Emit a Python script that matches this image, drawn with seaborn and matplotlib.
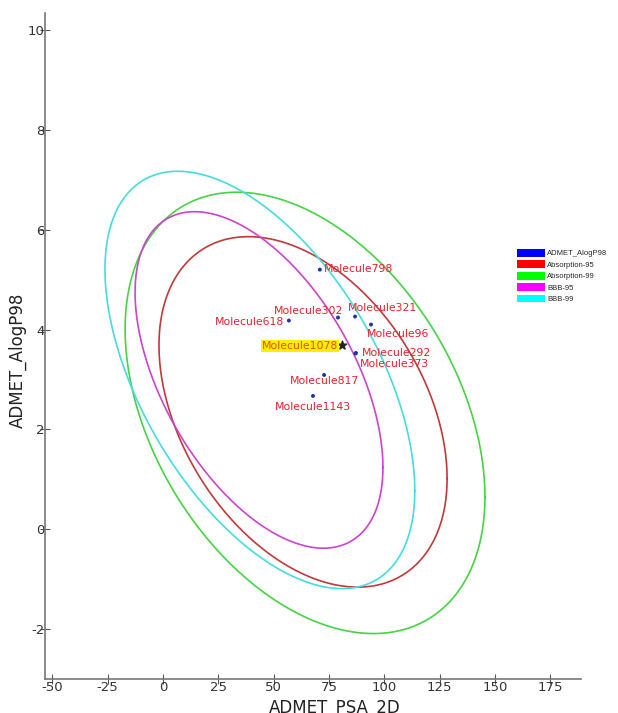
import numpy as np
import pandas as pd
import matplotlib
matplotlib.use("Agg")
import matplotlib.pyplot as plt
import seaborn as sns
from matplotlib.patches import Patch

# ellipse parameters: centre x/y, half width, half height, tilt (cos of phase)
ell_names = ["Absorption-95", "Absorption-99", "BBB-95", "BBB-99"]
ell_cx = [63.3, 64.2, 43.4, 43.8]
ell_cy = [2.35, 2.33, 2.99, 2.99]
ell_ax = [65.1, 81.3, 56.0, 70.0]
ell_ay = [3.51, 4.42, 3.37, 4.18]
ell_cos = [-0.38, -0.38, -0.52, -0.53]
ell_colors = ["#c03a3a", "#44d444", "#cc44cc", "#44dddd"]

mol_names = ["Molecule798", "Molecule302", "Molecule321", "Molecule96", "Molecule618",
             "Molecule292", "Molecule373", "Molecule817", "Molecule1143"]
mol_psa = [70.9, 79.1, 86.8, 94.0, 56.9, 87.2, 87.0, 72.8, 67.8]
mol_alogp = [5.20, 4.24, 4.26, 4.10, 4.18, 3.53, 3.52, 3.09, 2.67]

ref_name = "Molecule1078"
ref_psa = 80.9
ref_alogp = 3.69

legend_names = ["ADMET_AlogP98", "Absorption-95", "Absorption-99", "BBB-95", "BBB-99"]
legend_colors = ["#0000ff", "#ff0000", "#00ff00", "#ff00ff", "#00ffff"]

sns.set_theme(style="white")
plt.rcParams['font.family'] = ['DejaVu Sans']
plt.rcParams['axes.unicode_minus'] = False

fig = plt.figure(figsize=(6.18, 7.13), dpi=100)
ax = fig.add_axes([45 / 618, 34 / 713, 536 / 618, 666 / 713])

t = np.linspace(0, 2 * np.pi, 400)
for name, cx, cy, a, b, c, col in zip(ell_names, ell_cx, ell_cy, ell_ax, ell_ay, ell_cos, ell_colors):
    phi = np.arccos(c)
    df = pd.DataFrame({"x": cx + a * np.cos(t), "y": cy + b * np.cos(t - phi)})
    sns.lineplot(data=df, x="x", y="y", sort=False, color=col, lw=1.2, ax=ax, estimator=None)

pts = pd.DataFrame({"psa": mol_psa, "alogp": mol_alogp, "name": mol_names})
sns.scatterplot(data=pts, x="psa", y="alogp", color="#2233aa", s=8, edgecolor="none", ax=ax, zorder=5)
ax.scatter([ref_psa], [ref_alogp], marker="*", s=40, color="#222222", zorder=6)

# label offsets in pixels
offsets = {
    "Molecule798": (4, 1, "left"),
    "Molecule302": (5, 7, "right"),
    "Molecule321": (-7, 9, "left"),
    "Molecule96": (-4, -9, "left"),
    "Molecule618": (-5, -1, "right"),
    "Molecule292": (6, 0, "left"),
    "Molecule373": (4, -11, "left"),
    "Molecule817": (0, -6, "center"),
    "Molecule1143": (0, -11, "center"),
}
for n, x, y in zip(mol_names, mol_psa, mol_alogp):
    dx, dy, ha = offsets[n]
    ax.annotate(n, (x, y), xytext=(dx, dy), textcoords="offset pixels",
                ha=ha, va="center", fontsize=7.8, color="#e8202a", zorder=7)
ax.annotate(ref_name, (ref_psa, ref_alogp), xytext=(-4, -1), textcoords="offset pixels",
            ha="right", va="center", fontsize=7.8, color="#e05010", zorder=7,
            bbox=dict(boxstyle="square,pad=0.1", fc="#ffee00", ec="none"))

ax.set_xlim(-53.3, 188.9)
ax.set_ylim(-3.0, 10.34)
ax.set_xticks(range(-50, 176, 25))
ax.set_yticks(range(-2, 11, 2))
ax.set_xlabel("ADMET_PSA_2D", fontsize=12, color="#222222", va="top")
ax.set_ylabel("ADMET_AlogP98", fontsize=12, color="#222222", va="center")
ax.xaxis.set_label_coords(0.541, -0.030)
ax.yaxis.set_label_coords(-0.050, 0.479)
for s in ["top", "right"]:
    ax.spines[s].set_visible(False)
for s in ["left", "bottom"]:
    ax.spines[s].set_color("#777777")
    ax.spines[s].set_linewidth(1.2)
ax.tick_params(axis="both", direction="inout", length=7, width=0.8, color="#555555",
               labelsize=9.5, labelcolor="#333333")
ax.tick_params(axis="x", pad=-2)
ax.tick_params(axis="y", pad=-3)
ax.tick_params(axis="both", bottom=True, left=True)

handles = [Patch(facecolor=c, edgecolor="none", label=l) for l, c in zip(legend_names, legend_colors)]
fig.legend(handles=handles, loc="upper left", bbox_to_anchor=(517 / 618, 1 - 249 / 713), frameon=False,
           prop={"family": "Liberation Sans", "size": 5.5}, handlelength=3.66, handleheight=1.18,
           handletextpad=0.26, labelspacing=0.39, borderpad=0, borderaxespad=0)

fig.savefig("out.png", dpi=100)
